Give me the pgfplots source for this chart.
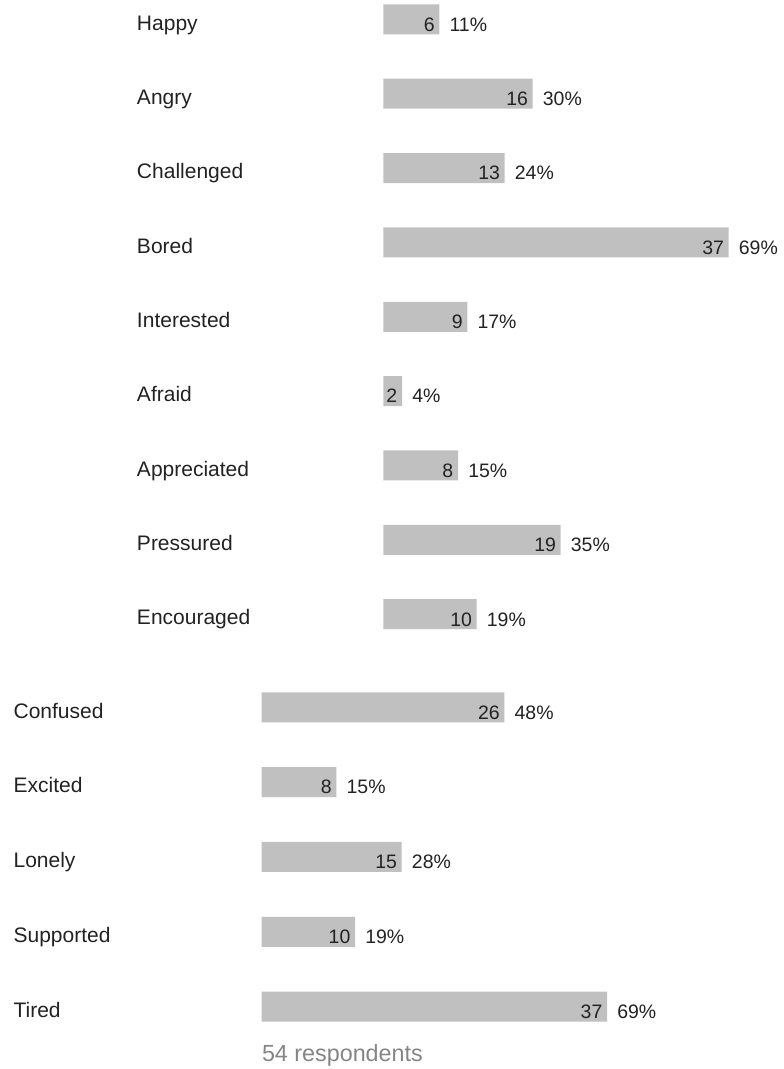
\documentclass[border=0pt]{standalone}
\usepackage{fontspec}
\setmainfont{Liberation Sans}
\usepackage{pgfplots}
\usepackage{pgfplotstable}
\pgfplotsset{compat=1.18}
\definecolor{barc}{HTML}{C0C0C0}
\definecolor{txt}{HTML}{222222}
\definecolor{resp}{HTML}{858585}

\pgfplotstableread{
y n pct
0 6 11
1 16 30
2 13 24
3 37 69
4 9 17
5 2 4
6 8 15
7 19 35
8 10 19
}\topdata
\pgfplotstableread{
y n pct
0 26 48
1 8 15
2 15 28
3 10 19
4 37 69
}\botdata

\pgfplotsset{
  mybars/.style={
    xbar, clip=false,
    x=7.0pt,
    xmin=0, xmax=40,
    y dir=reverse,
    enlargelimits=false,
    axis line style={draw=none},
    xtick=\empty,
    ytick=data,
    major tick length=0pt,
    bar width=22.5pt,
    yticklabel style={anchor=base west, inner sep=0pt, font=\fontsize{15.75}{18}\selectfont, text=txt},
    point meta=explicit symbolic,
    nodes near coords={\llap{\pgfmathprintnumber[assume math mode=true]{\pgfkeysvalueof{/data point/x}}\hspace{11.25pt}}\pgfplotspointmeta\%},
    every node near coord/.append style={anchor=base west, inner sep=0pt, xshift=7.5pt, yshift=-8.85pt, font=\fontsize{14.6}{17}\selectfont, text=txt},
  }
}

\begin{document}
\begin{tikzpicture}
\path[use as bounding box] (0,0) rectangle (587.25pt,-801.75pt);

\begin{axis}[mybars,
  y=55.77pt, ymin=-0.5, ymax=8.5,
  anchor=origin, at={(287.5pt,-14.5pt)},
  yticklabels={Happy,Angry,Challenged,Bored,Interested,Afraid,Appreciated,Pressured,Encouraged},
  yticklabel style={xshift=-184.95pt, yshift=-8pt},
]
\addplot[fill=barc, draw=none] table[x=n, y=y, meta=pct] {\topdata};
\end{axis}

\begin{axis}[mybars,
  y=56.1pt, ymin=-0.5, ymax=4.5,
  anchor=origin, at={(196.3pt,-530.5pt)},
  yticklabels={Confused,Excited,Lonely,Supported,Tired},
  yticklabel style={xshift=-186.3pt, yshift=-8pt},
]
\addplot[fill=barc, draw=none] table[x=n, y=y, meta=pct] {\botdata};
\end{axis}

\node[anchor=base west, inner sep=0pt, text=resp, font=\fontsize{17.5}{20}\selectfont] at (196.3pt,-796.3pt) {54 respondents};
\end{tikzpicture}
\end{document}
